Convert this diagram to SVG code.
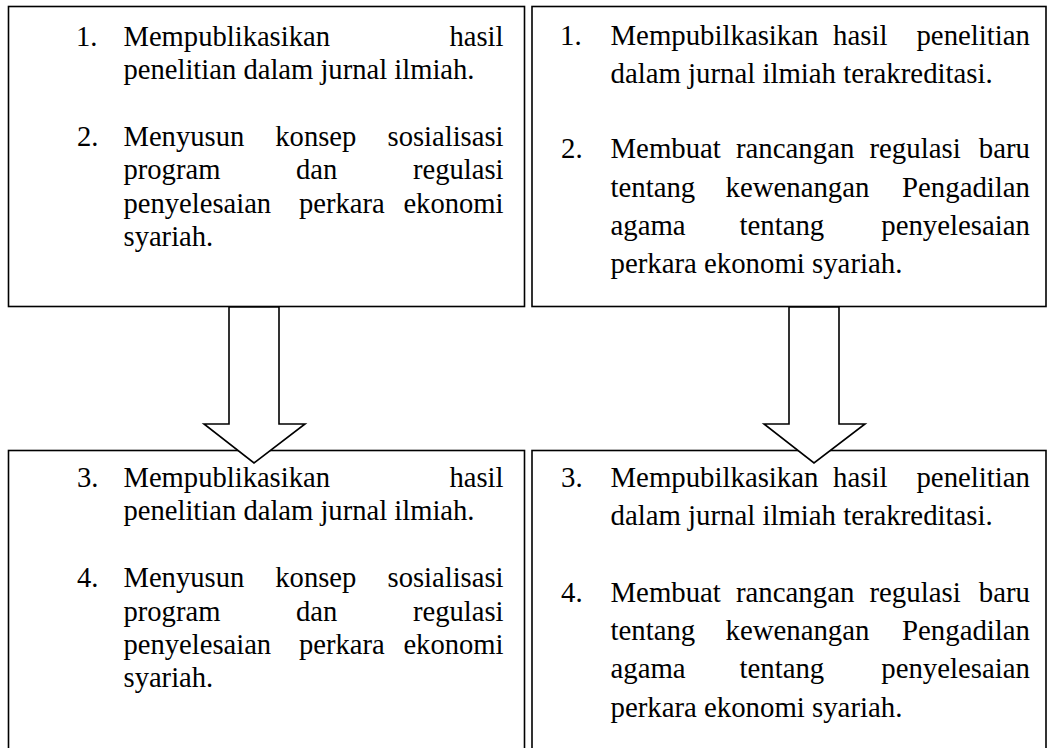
<svg xmlns="http://www.w3.org/2000/svg" width="1050" height="748" viewBox="0 0 1050 748">
<style>
.box{fill:#fff;stroke:#000;stroke-width:1.6}
.arrow{fill:#fff;stroke:#000;stroke-width:1.6;stroke-linejoin:miter}
.tl{font-family:'Liberation Serif','Times New Roman',serif;font-size:28.6px;fill:#000}
.tr{font-family:'Liberation Serif','Times New Roman',serif;font-size:28.8px;fill:#000}
.e{text-anchor:end}
</style>
<rect width="1050" height="748" fill="#fff"/>
<g id="box-top-left" class="tl">
<rect class="box" x="8.5" y="6.5" width="516" height="300"/>
<text x="76" y="45.5">1.</text>
<text x="123.5" y="45.5">Mempublikasikan</text><text class="e" x="503.5" y="45.5">hasil</text>
<text x="123.5" y="79">penelitian dalam jurnal ilmiah.</text>
<text x="77" y="145.5">2.</text>
<text x="123.5" y="145.5">Menyusun</text><text x="275.3" y="145.5">konsep</text><text class="e" x="503.5" y="145.5">sosialisasi</text>
<text x="123.5" y="179">program</text><text x="296" y="179">dan</text><text class="e" x="503.5" y="179">regulasi</text>
<text x="123.5" y="212.5">penyelesaian</text><text x="299" y="212.5">perkara</text><text class="e" x="503.5" y="212.5">ekonomi</text>
<text x="123.5" y="246">syariah.</text>
</g>
<g id="box-top-right" class="tr">
<rect class="box" x="532" y="6.5" width="514" height="300"/>
<text x="560" y="45">1.</text>
<text x="610.5" y="45">Mempubilkasikan</text><text x="833" y="45">hasil</text><text class="e" x="1030" y="45">penelitian</text>
<text x="610.5" y="83.3">dalam jurnal ilmiah terakreditasi.</text>
<text x="561" y="158.3">2.</text>
<text x="610.5" y="158.3">Membuat</text><text x="736" y="158.3">rancangan</text><text x="869.5" y="158.3">regulasi</text><text class="e" x="1030" y="158.3">baru</text>
<text x="610.5" y="196.7">tentang</text><text x="725.5" y="196.7">kewenangan</text><text class="e" x="1030" y="196.7">Pengadilan</text>
<text x="610.5" y="235">agama</text><text x="739.5" y="235">tentang</text><text class="e" x="1030" y="235">penyelesaian</text>
<text x="610.5" y="273.3">perkara ekonomi syariah.</text>
</g>
<g id="box-bottom-left" class="tl">
<rect class="box" x="8.5" y="450.5" width="516" height="310"/>
<text x="77" y="486.5">3.</text>
<text x="123.5" y="486.5">Mempublikasikan</text><text class="e" x="503.5" y="486.5">hasil</text>
<text x="123.5" y="520">penelitian dalam jurnal ilmiah.</text>
<text x="77" y="587">4.</text>
<text x="123.5" y="587">Menyusun</text><text x="275.3" y="587">konsep</text><text class="e" x="503.5" y="587">sosialisasi</text>
<text x="123.5" y="620.5">program</text><text x="296" y="620.5">dan</text><text class="e" x="503.5" y="620.5">regulasi</text>
<text x="123.5" y="654">penyelesaian</text><text x="299" y="654">perkara</text><text class="e" x="503.5" y="654">ekonomi</text>
<text x="123.5" y="687">syariah.</text>
</g>
<g id="box-bottom-right" class="tr">
<rect class="box" x="532" y="450.5" width="514" height="310"/>
<text x="561" y="486.7">3.</text>
<text x="610.5" y="486.7">Mempubilkasikan</text><text x="833" y="486.7">hasil</text><text class="e" x="1030" y="486.7">penelitian</text>
<text x="610.5" y="525">dalam jurnal ilmiah terakreditasi.</text>
<text x="561" y="601.7">4.</text>
<text x="610.5" y="601.7">Membuat</text><text x="736" y="601.7">rancangan</text><text x="869.5" y="601.7">regulasi</text><text class="e" x="1030" y="601.7">baru</text>
<text x="610.5" y="640">tentang</text><text x="725.5" y="640">kewenangan</text><text class="e" x="1030" y="640">Pengadilan</text>
<text x="610.5" y="678.3">agama</text><text x="739.5" y="678.3">tentang</text><text class="e" x="1030" y="678.3">penyelesaian</text>
<text x="610.5" y="716.7">perkara ekonomi syariah.</text>
</g>
<g id="connectors">
<polygon class="arrow" points="229,307 279,307 279,424 305,424 254,463 204,424 229,424"/>
<polygon class="arrow" points="789,307 839,307 839,424 865,424 814,463 764,424 789,424"/>
</g>
</svg>
